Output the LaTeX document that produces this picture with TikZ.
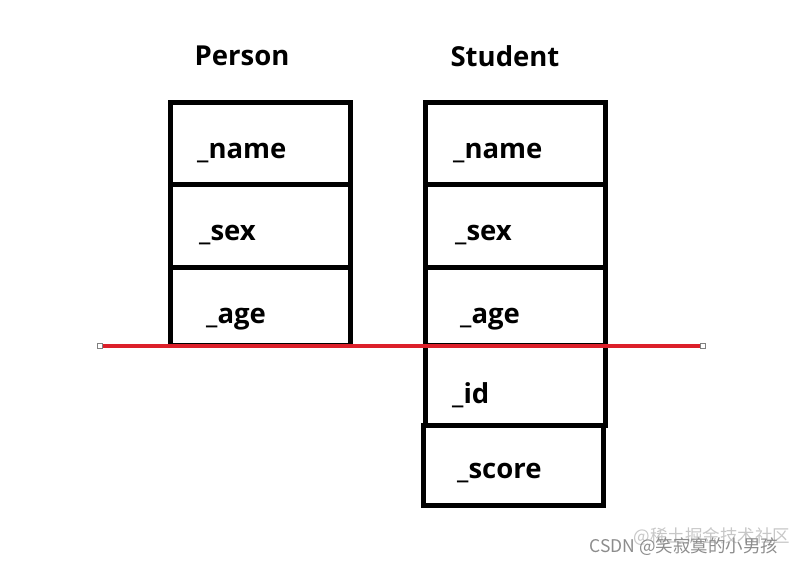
\documentclass[tikz,border=0pt]{standalone}
\usepackage{fontspec}
\setmainfont{Open Sans}
\newfontfamily\cjkfont{Noto Sans CJK SC}
\usetikzlibrary{positioning}
\definecolor{cutred}{RGB}{220,32,42}
\tikzstyle{field} = [rectangle, minimum width=180pt, minimum height=82pt, outer sep=0pt, draw=black, line width=5pt]
\tikzstyle{fname} = [anchor=base west, inner sep=0pt, font=\fontsize{27.5}{32}\selectfont\bfseries]
\tikzstyle{title} = [inner sep=0pt, font=\fontsize{27.5}{32}\selectfont\bfseries]
\tikzstyle{handle} = [rectangle, draw=gray, fill=white, line width=0.6pt, minimum size=5pt, inner sep=0pt]
\tikzstyle{wmark} = [inner sep=0pt, font=\cjkfont\fontsize{17.5}{20}\selectfont]

\begin{document}
\begin{tikzpicture}[x=1pt,y=-1pt]
\useasboundingbox (0,0) rectangle (800,565);
% Person
\node (ptitle) [title] at (242,56) {Person};
\node (pname) [field] at (260,143) {};
\node (psex) [field, below=0pt of pname, minimum height=83pt] {};
\node (page) [field, below=0pt of psex, minimum height=78pt] {};
\node (pnametxt) [fname, xshift=27pt, yshift=-15pt] at (pname.west) {\_name};
\node (psextxt) [fname, xshift=29pt, yshift=-15pt] at (psex.west) {\_sex};
\node (pagetxt) [fname, xshift=36pt, yshift=-17pt] at (page.west) {\_age};

% Student
\node (stitle) [title] at (505,56) {Student};
\node (sname) [field] at (515,143) {};
\node (ssex) [field, below=0pt of sname, minimum height=83pt] {};
\node (sage) [field, below=0pt of ssex, minimum height=78pt] {};
\node (sid) [field, below=0pt of sage, minimum height=80pt] {};
\node (sscore) [field, below=0pt of sid, minimum height=80pt, xshift=-2pt] {};
\node (snametxt) [fname, xshift=28pt, yshift=-15pt] at (sname.west) {\_name};
\node (ssextxt) [fname, xshift=30pt, yshift=-15pt] at (ssex.west) {\_sex};
\node (sagetxt) [fname, xshift=35pt, yshift=-17pt] at (sage.west) {\_age};
\node (sidtxt) [fname, xshift=27pt, yshift=-18pt] at (sid.west) {\_id};
\node (sscoretxt) [fname, xshift=34pt, yshift=-13pt] at (sscore.west) {\_score};

% cut line
\coordinate (cutl) at (100,346);
\coordinate (cutr) at (703,346);
\draw [cutred, line width=4pt] (cutl) -- (cutr);
\node (hl) [handle] at (cutl) {};
\node (hr) [handle] at (cutr) {};

% watermark
\node (juejin) [wmark, text=black!22] at (712,537) {@稀土掘金技术社区};
\node (csdn) [wmark, text=black!45] at (684,547) {CSDN @笑寂寞的小男孩};
\end{tikzpicture}
\end{document}
